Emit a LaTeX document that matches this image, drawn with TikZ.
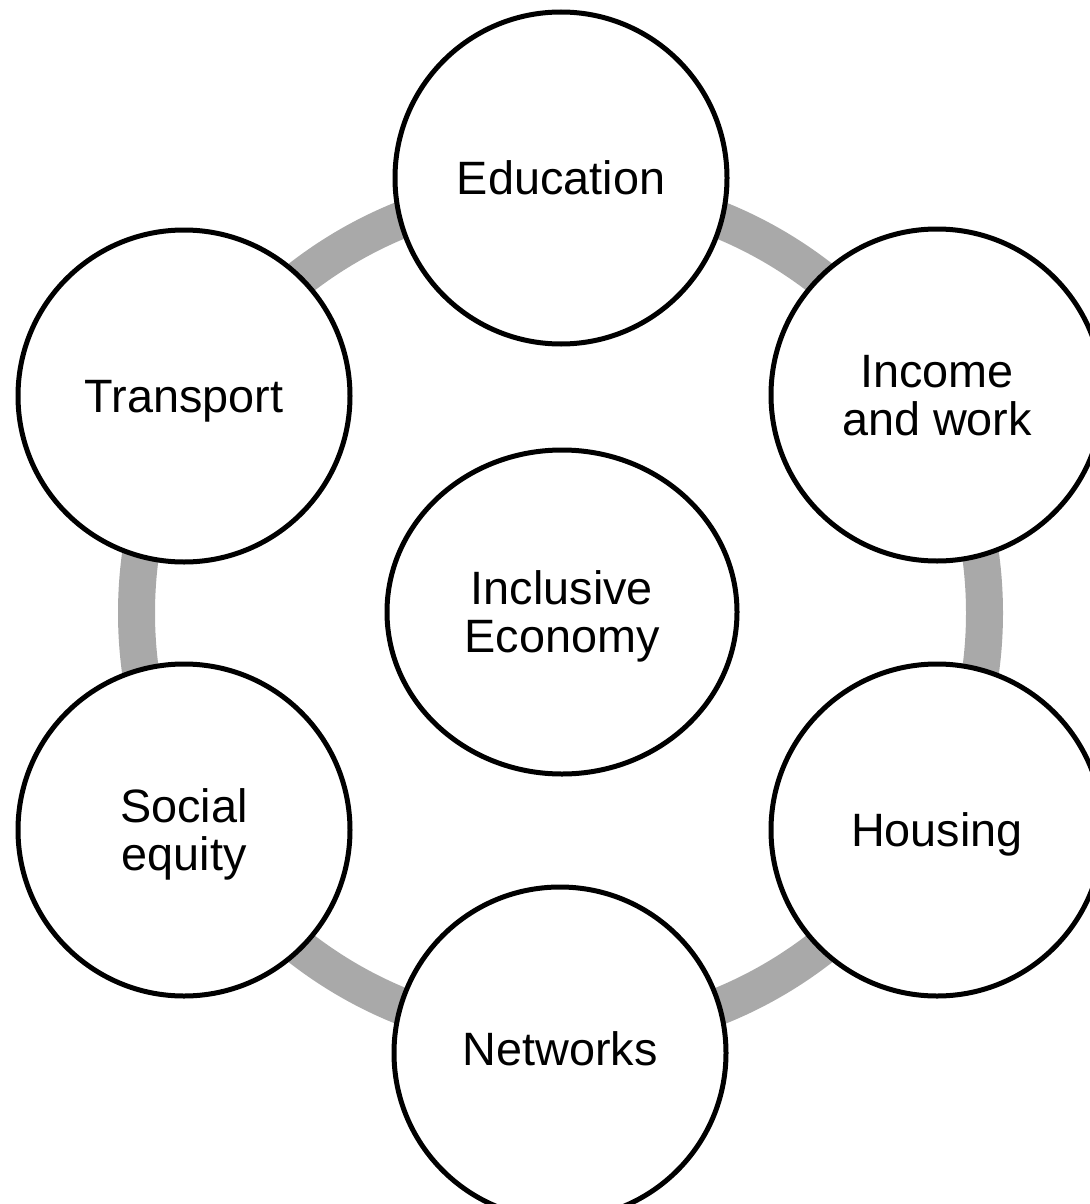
\documentclass[tikz,border=0pt]{standalone}
\usepackage{fontspec}
\setmainfont{Liberation Sans}
\usetikzlibrary{shapes.geometric}
\definecolor{ringgray}{RGB}{169,169,169}
\tikzset{
  labelfont/.style={font=\fontsize{23.4pt}{24pt}\selectfont},
  topic/.style={circle, draw=black, fill=white, line width=2.5pt,
    minimum size=166pt, inner sep=0pt, align=center, text depth=0pt,
    labelfont},
  hub/.style={ellipse, draw=black, fill=white, line width=2.5pt,
    minimum width=175pt, minimum height=162pt, inner sep=0pt, align=center,
    text depth=0pt, labelfont},
  ring/.style={draw=ringgray, line width=18.5pt}
}
\begin{document}
\begin{tikzpicture}[x=0.5pt, y=-0.5pt]
  \useasboundingbox (0,0) rectangle (1089,1204);
  % grey ring linking the six topics
  \coordinate (mid) at (560.5,613);
  \draw[ring] (mid) circle[radius=212pt];
  % central theme
  \node[hub] (core) at (562,612) {Inclusive\\Economy};
  % surrounding topics
  \node[topic] (edu) at (561,178) {Education};
  \node[topic] (inc) at (937,395) {Income\\and work};
  \node[topic] (hou) at (937,830) {Housing};
  \node[topic] (net) at (560,1053) {\raisebox{4pt}{Networks}};
  \node[topic] (soc) at (184,830) {Social\\equity};
  \node[topic] (tra) at (184,396) {Transport};
\end{tikzpicture}
\end{document}
